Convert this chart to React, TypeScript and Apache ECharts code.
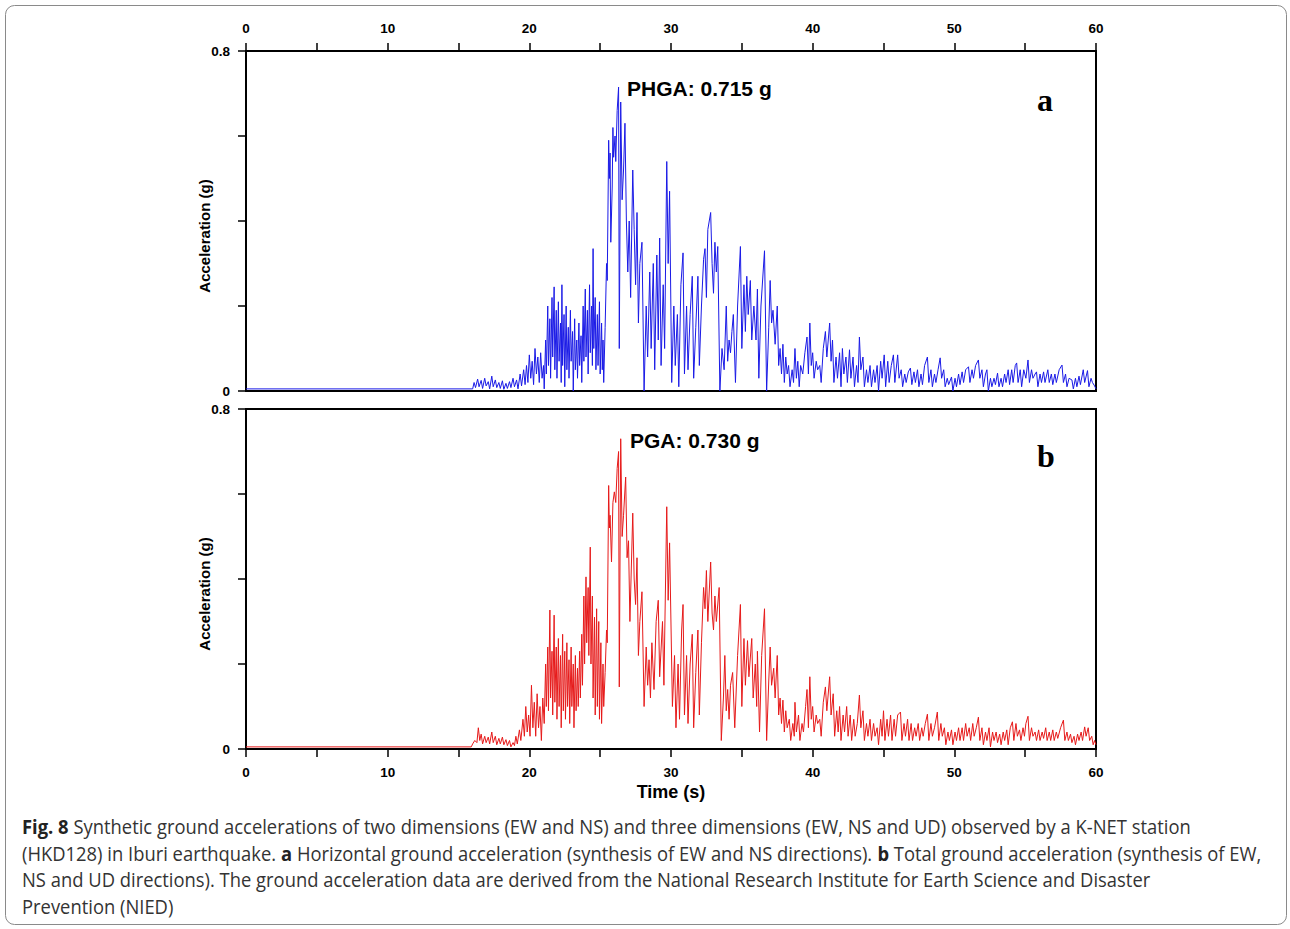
import React, { useEffect, useRef } from "react";
import * as echarts from "echarts";

// Time axis ticks (s) and acceleration axis (g)
const timeTicks = [0, 10, 20, 30, 40, 50, 60];
const accelLabels = ["0", "0.8"];

// Panel a: horizontal ground acceleration (EW + NS), [time s, acceleration g]
const phgaSeries: [number, number][] = [
  [0, 0.005], [16.0, 0.005], [16.1, 0.02], [16.2, 0.008], [16.35, 0.028], [16.45, 0.01], [16.6, 0.025], [16.7, 0.006],
  [16.85, 0.03], [16.95, 0.012], [17.1, 0.022], [17.2, 0.005], [17.35, 0.035], [17.45, 0.01], [17.6, 0.026], [17.7, 0.008],
  [17.85, 0.02], [17.95, 0.006], [18.1, 0.024], [18.2, 0.004], [18.35, 0.018], [18.45, 0.006], [18.6, 0.022], [18.7, 0.008],
  [18.85, 0.03], [18.95, 0.01], [19.1, 0.026], [19.2, 0.005], [19.35, 0.04], [19.45, 0.012], [19.6, 0.05], [19.7, 0.015],
  [19.8, 0.06], [19.9, 0.02], [20.0, 0.085], [20.1, 0.03], [20.2, 0.07], [20.3, 0.015], [20.4, 0.1], [20.5, 0.04],
  [20.6, 0.08], [20.7, 0.02], [20.8, 0.09], [20.9, 0.03], [21.0, 0.06], [21.05, 0.005], [21.15, 0.12], [21.2, 0.04],
  [21.3, 0.2], [21.35, 0.06], [21.45, 0.17], [21.5, 0.03], [21.6, 0.22], [21.65, 0.08], [21.75, 0.245], [21.8, 0.05],
  [21.9, 0.19], [21.95, 0.03], [22.05, 0.21], [22.1, 0.07], [22.2, 0.16], [22.25, 0.02], [22.3, 0.25], [22.35, 0.06],
  [22.45, 0.18], [22.5, 0.01], [22.6, 0.2], [22.65, 0.05], [22.75, 0.15], [22.8, 0.03], [22.9, 0.19], [22.95, 0.07],
  [23.05, 0.14], [23.1, 0.0], [23.2, 0.17], [23.25, 0.05], [23.35, 0.12], [23.4, 0.03], [23.5, 0.16], [23.55, 0.06],
  [23.65, 0.13], [23.7, 0.02], [23.8, 0.2], [23.85, 0.07], [23.95, 0.24], [24.0, 0.08], [24.1, 0.19], [24.15, 0.04],
  [24.25, 0.25], [24.3, 0.09], [24.4, 0.2], [24.45, 0.06], [24.5, 0.335], [24.55, 0.1], [24.65, 0.22], [24.7, 0.05],
  [24.8, 0.18], [24.85, 0.06], [24.95, 0.21], [25.0, 0.04], [25.1, 0.16], [25.15, 0.05], [25.2, 0.12], [25.25, 0.02],
  [25.35, 0.15], [25.45, 0.3], [25.5, 0.26], [25.6, 0.59], [25.65, 0.5], [25.7, 0.56], [25.75, 0.35], [25.85, 0.48],
  [25.9, 0.62], [25.95, 0.55], [26.05, 0.6], [26.1, 0.54], [26.2, 0.66], [26.3, 0.715], [26.35, 0.1], [26.45, 0.68],
  [26.55, 0.45], [26.65, 0.52], [26.75, 0.63], [26.85, 0.4], [26.95, 0.28], [27.05, 0.4], [27.15, 0.22], [27.3, 0.52],
  [27.4, 0.38], [27.5, 0.25], [27.6, 0.42], [27.7, 0.16], [27.8, 0.3], [27.95, 0.35], [28.1, 0.0], [28.25, 0.2],
  [28.35, 0.08], [28.5, 0.28], [28.6, 0.1], [28.75, 0.3], [28.85, 0.05], [29.0, 0.32], [29.1, 0.12], [29.2, 0.36],
  [29.3, 0.06], [29.45, 0.25], [29.55, 0.1], [29.7, 0.54], [29.8, 0.3], [29.9, 0.47], [30.05, 0.02], [30.2, 0.2],
  [30.3, 0.06], [30.45, 0.18], [30.55, 0.01], [30.7, 0.25], [30.85, 0.325], [30.95, 0.04], [31.1, 0.2], [31.2, 0.05],
  [31.35, 0.18], [31.5, 0.27], [31.6, 0.03], [31.75, 0.15], [31.9, 0.27], [32.0, 0.06], [32.15, 0.2], [32.3, 0.31],
  [32.4, 0.335], [32.5, 0.22], [32.6, 0.38], [32.8, 0.42], [32.9, 0.3], [33.0, 0.23], [33.1, 0.35], [33.2, 0.28],
  [33.3, 0.34], [33.45, 0.0], [33.6, 0.1], [33.75, 0.05], [33.9, 0.2], [34.0, 0.07], [34.1, 0.12], [34.2, 0.09],
  [34.3, 0.14], [34.4, 0.18], [34.55, 0.02], [34.7, 0.2], [34.9, 0.34], [35.0, 0.1], [35.15, 0.25], [35.25, 0.14],
  [35.35, 0.27], [35.45, 0.18], [35.6, 0.26], [35.7, 0.12], [35.85, 0.2], [36.0, 0.12], [36.1, 0.24], [36.2, 0.03],
  [36.35, 0.2], [36.6, 0.33], [36.75, 0.0], [36.9, 0.15], [37.0, 0.26], [37.1, 0.16], [37.2, 0.19], [37.35, 0.11],
  [37.5, 0.2], [37.6, 0.06], [37.7, 0.1], [37.8, 0.04], [37.9, 0.11], [38.0, 0.02], [38.1, 0.08], [38.2, 0.04],
  [38.3, 0.06], [38.4, 0.01], [38.55, 0.05], [38.65, 0.02], [38.75, 0.1], [38.85, 0.03], [38.95, 0.07], [39.05, 0.01],
  [39.15, 0.06], [39.3, 0.04], [39.45, 0.09], [39.6, 0.127], [39.7, 0.04], [39.8, 0.16], [39.9, 0.06], [40.0, 0.09],
  [40.1, 0.03], [40.25, 0.07], [40.35, 0.05], [40.5, 0.06], [40.6, 0.02], [40.75, 0.1], [40.9, 0.14], [41.0, 0.08],
  [41.2, 0.16], [41.3, 0.07], [41.4, 0.12], [41.5, 0.02], [41.65, 0.08], [41.75, 0.03], [41.9, 0.09], [42.0, 0.01],
  [42.1, 0.1], [42.2, 0.04], [42.35, 0.08], [42.45, 0.02], [42.6, 0.097], [42.7, 0.03], [42.85, 0.08], [42.95, 0.01],
  [43.1, 0.06], [43.2, 0.02], [43.3, 0.127], [43.4, 0.05], [43.55, 0.08], [43.65, 0.01], [43.8, 0.05], [43.9, 0.02],
  [44.05, 0.06], [44.15, 0.01], [44.3, 0.05], [44.4, 0.02], [44.55, 0.06], [44.65, 0.0], [44.8, 0.07], [44.9, 0.03],
  [45.05, 0.085], [45.15, 0.01], [45.3, 0.07], [45.4, 0.02], [45.55, 0.06], [45.7, 0.085], [45.8, 0.02], [46.0, 0.085],
  [46.1, 0.03], [46.25, 0.05], [46.35, 0.01], [46.5, 0.04], [46.6, 0.02], [46.75, 0.045], [46.9, 0.054], [47.0, 0.015],
  [47.15, 0.045], [47.25, 0.02], [47.4, 0.05], [47.5, 0.01], [47.65, 0.04], [47.75, 0.015], [47.9, 0.06], [48.1, 0.08],
  [48.2, 0.02], [48.35, 0.05], [48.45, 0.01], [48.6, 0.04], [48.7, 0.02], [48.85, 0.05], [49.0, 0.078], [49.1, 0.03],
  [49.25, 0.05], [49.35, 0.01], [49.5, 0.03], [49.6, 0.015], [49.8, 0.033], [49.9, 0.0], [50.05, 0.03], [50.15, 0.01],
  [50.3, 0.04], [50.4, 0.015], [50.55, 0.045], [50.65, 0.02], [50.8, 0.05], [51.0, 0.057], [51.1, 0.02], [51.25, 0.05],
  [51.35, 0.03], [51.5, 0.06], [51.7, 0.073], [51.8, 0.03], [51.95, 0.05], [52.05, 0.01], [52.2, 0.04], [52.3, 0.05],
  [52.4, 0.0], [52.55, 0.03], [52.65, 0.01], [52.8, 0.03], [52.9, 0.015], [53.05, 0.042], [53.15, 0.01], [53.3, 0.03],
  [53.4, 0.01], [53.55, 0.04], [53.65, 0.02], [53.8, 0.05], [53.9, 0.015], [54.05, 0.05], [54.15, 0.02], [54.3, 0.06],
  [54.4, 0.066], [54.5, 0.02], [54.65, 0.05], [54.75, 0.01], [54.9, 0.05], [55.05, 0.03], [55.2, 0.073], [55.3, 0.02],
  [55.45, 0.05], [55.55, 0.03], [55.7, 0.04], [55.8, 0.045], [55.9, 0.01], [56.05, 0.04], [56.15, 0.02], [56.3, 0.045],
  [56.4, 0.02], [56.6, 0.05], [56.7, 0.02], [56.85, 0.04], [56.95, 0.015], [57.1, 0.04], [57.2, 0.02], [57.4, 0.05],
  [57.6, 0.061], [57.7, 0.02], [57.85, 0.04], [57.95, 0.01], [58.1, 0.03], [58.3, 0.026], [58.4, 0.005], [58.55, 0.03],
  [58.65, 0.01], [58.8, 0.035], [58.9, 0.015], [59.1, 0.05], [59.2, 0.02], [59.4, 0.048], [59.5, 0.01], [59.65, 0.03],
  [59.75, 0.02], [59.9, 0.012], [60.0, 0.005],
];

// Panel b: total ground acceleration (EW + NS + UD), [time s, acceleration g]
const pgaSeries: [number, number][] = [
  [0, 0.005], [15.9, 0.005], [16.0, 0.012], [16.15, 0.02], [16.3, 0.015], [16.4, 0.05], [16.5, 0.02], [16.6, 0.035],
  [16.7, 0.012], [16.85, 0.03], [16.95, 0.015], [17.1, 0.028], [17.2, 0.012], [17.35, 0.04], [17.45, 0.015], [17.6, 0.03],
  [17.7, 0.01], [17.85, 0.025], [17.95, 0.012], [18.1, 0.028], [18.2, 0.01], [18.35, 0.022], [18.45, 0.008], [18.6, 0.02],
  [18.7, 0.005], [18.85, 0.015], [18.95, 0.008], [19.05, 0.03], [19.15, 0.012], [19.3, 0.045], [19.4, 0.02], [19.55, 0.07],
  [19.65, 0.03], [19.75, 0.1], [19.85, 0.04], [19.95, 0.08], [20.05, 0.03], [20.15, 0.15], [20.25, 0.05], [20.35, 0.11],
  [20.45, 0.03], [20.55, 0.13], [20.65, 0.05], [20.75, 0.1], [20.85, 0.02], [20.95, 0.12], [21.05, 0.06], [21.15, 0.2],
  [21.2, 0.1], [21.3, 0.24], [21.35, 0.09], [21.45, 0.327], [21.5, 0.12], [21.6, 0.23], [21.65, 0.08], [21.75, 0.315],
  [21.8, 0.11], [21.9, 0.24], [21.95, 0.07], [22.05, 0.26], [22.1, 0.1], [22.2, 0.22], [22.25, 0.05], [22.35, 0.27],
  [22.4, 0.09], [22.5, 0.23], [22.55, 0.07], [22.65, 0.25], [22.7, 0.1], [22.8, 0.21], [22.85, 0.06], [22.95, 0.24],
  [23.0, 0.1], [23.1, 0.2], [23.15, 0.05], [23.25, 0.22], [23.3, 0.09], [23.4, 0.19], [23.45, 0.1], [23.55, 0.23],
  [23.6, 0.12], [23.7, 0.27], [23.75, 0.15], [23.85, 0.36], [23.9, 0.2], [24.0, 0.405], [24.05, 0.25], [24.15, 0.38],
  [24.2, 0.22], [24.3, 0.475], [24.35, 0.2], [24.45, 0.36], [24.5, 0.12], [24.6, 0.31], [24.65, 0.08], [24.75, 0.33],
  [24.8, 0.1], [24.9, 0.3], [24.95, 0.07], [25.05, 0.25], [25.1, 0.06], [25.2, 0.2], [25.25, 0.1], [25.35, 0.18],
  [25.45, 0.28], [25.5, 0.25], [25.6, 0.62], [25.65, 0.52], [25.7, 0.55], [25.8, 0.44], [25.9, 0.58], [26.0, 0.605],
  [26.1, 0.58], [26.2, 0.66], [26.3, 0.7], [26.35, 0.146], [26.45, 0.73], [26.55, 0.5], [26.65, 0.55], [26.8, 0.64],
  [26.9, 0.45], [27.0, 0.49], [27.1, 0.3], [27.3, 0.555], [27.4, 0.4], [27.5, 0.34], [27.6, 0.45], [27.7, 0.22],
  [27.8, 0.3], [27.95, 0.37], [28.1, 0.1], [28.25, 0.24], [28.35, 0.15], [28.45, 0.21], [28.55, 0.12], [28.65, 0.25],
  [28.8, 0.14], [28.95, 0.3], [29.1, 0.35], [29.2, 0.17], [29.4, 0.3], [29.5, 0.15], [29.7, 0.57], [29.8, 0.35],
  [29.9, 0.485], [30.1, 0.1], [30.25, 0.22], [30.35, 0.05], [30.5, 0.2], [30.6, 0.07], [30.75, 0.28], [30.85, 0.34],
  [30.95, 0.08], [31.1, 0.22], [31.2, 0.06], [31.35, 0.2], [31.5, 0.27], [31.6, 0.05], [31.75, 0.18], [31.9, 0.28],
  [32.0, 0.08], [32.15, 0.25], [32.3, 0.38], [32.4, 0.33], [32.5, 0.42], [32.6, 0.3], [32.8, 0.44], [32.9, 0.32],
  [33.0, 0.28], [33.1, 0.36], [33.2, 0.3], [33.4, 0.38], [33.55, 0.02], [33.7, 0.12], [33.8, 0.22], [33.9, 0.09],
  [34.0, 0.14], [34.1, 0.07], [34.2, 0.15], [34.35, 0.18], [34.5, 0.05], [34.7, 0.22], [34.9, 0.34], [35.0, 0.1],
  [35.15, 0.26], [35.25, 0.15], [35.4, 0.255], [35.5, 0.17], [35.7, 0.26], [35.8, 0.12], [35.95, 0.2], [36.05, 0.1],
  [36.1, 0.23], [36.25, 0.04], [36.4, 0.22], [36.6, 0.33], [36.75, 0.02], [36.9, 0.16], [37.0, 0.24], [37.1, 0.15],
  [37.25, 0.19], [37.35, 0.12], [37.5, 0.22], [37.6, 0.08], [37.7, 0.12], [37.8, 0.06], [37.9, 0.115], [38.0, 0.04],
  [38.1, 0.09], [38.2, 0.05], [38.35, 0.07], [38.45, 0.02], [38.6, 0.06], [38.7, 0.03], [38.75, 0.11], [38.85, 0.04],
  [39.0, 0.08], [39.1, 0.02], [39.25, 0.06], [39.35, 0.04], [39.5, 0.1], [39.6, 0.14], [39.7, 0.05], [39.8, 0.17],
  [39.9, 0.07], [40.0, 0.1], [40.1, 0.04], [40.25, 0.08], [40.35, 0.06], [40.5, 0.07], [40.6, 0.03], [40.75, 0.11],
  [40.9, 0.146], [41.0, 0.09], [41.2, 0.17], [41.3, 0.08], [41.45, 0.13], [41.55, 0.03], [41.7, 0.09], [41.8, 0.04],
  [41.9, 0.1], [42.0, 0.02], [42.15, 0.08], [42.25, 0.04], [42.4, 0.1], [42.5, 0.03], [42.65, 0.08], [42.75, 0.02],
  [42.9, 0.07], [43.0, 0.03], [43.15, 0.06], [43.3, 0.127], [43.4, 0.05], [43.55, 0.09], [43.65, 0.02], [43.8, 0.06],
  [43.9, 0.03], [44.05, 0.07], [44.15, 0.02], [44.3, 0.06], [44.4, 0.03], [44.55, 0.05], [44.65, 0.01], [44.8, 0.07],
  [44.9, 0.03], [45.0, 0.09], [45.1, 0.02], [45.25, 0.07], [45.35, 0.03], [45.5, 0.08], [45.6, 0.02], [45.75, 0.07],
  [45.85, 0.03], [46.0, 0.08], [46.2, 0.087], [46.3, 0.02], [46.45, 0.06], [46.55, 0.03], [46.7, 0.07], [46.8, 0.02],
  [46.95, 0.06], [47.05, 0.02], [47.2, 0.05], [47.3, 0.03], [47.45, 0.06], [47.55, 0.02], [47.7, 0.05], [47.8, 0.03],
  [47.95, 0.06], [48.1, 0.082], [48.2, 0.02], [48.35, 0.06], [48.45, 0.03], [48.6, 0.05], [48.8, 0.087], [48.9, 0.02],
  [49.05, 0.06], [49.15, 0.03], [49.3, 0.05], [49.4, 0.01], [49.55, 0.04], [49.65, 0.02], [49.8, 0.045], [49.9, 0.01],
  [50.05, 0.04], [50.15, 0.02], [50.3, 0.05], [50.4, 0.02], [50.55, 0.05], [50.65, 0.02], [50.8, 0.06], [50.9, 0.03],
  [51.05, 0.05], [51.15, 0.02], [51.3, 0.06], [51.4, 0.03], [51.55, 0.05], [51.7, 0.075], [51.8, 0.02], [51.95, 0.05],
  [52.05, 0.01], [52.2, 0.04], [52.3, 0.02], [52.45, 0.05], [52.55, 0.005], [52.7, 0.04], [52.8, 0.02], [52.95, 0.04],
  [53.05, 0.015], [53.2, 0.035], [53.3, 0.01], [53.45, 0.04], [53.55, 0.02], [53.7, 0.045], [53.8, 0.01], [53.95, 0.05],
  [54.1, 0.064], [54.2, 0.02], [54.35, 0.06], [54.45, 0.03], [54.6, 0.045], [54.7, 0.02], [54.85, 0.05], [54.95, 0.03],
  [55.05, 0.06], [55.2, 0.077], [55.3, 0.02], [55.45, 0.05], [55.55, 0.03], [55.7, 0.04], [55.8, 0.02], [55.95, 0.045],
  [56.05, 0.02], [56.2, 0.04], [56.3, 0.025], [56.45, 0.05], [56.55, 0.02], [56.7, 0.04], [56.8, 0.02], [56.95, 0.045],
  [57.05, 0.02], [57.2, 0.04], [57.3, 0.025], [57.5, 0.05], [57.7, 0.068], [57.8, 0.02], [57.95, 0.04], [58.05, 0.02],
  [58.2, 0.035], [58.3, 0.015], [58.45, 0.03], [58.55, 0.01], [58.7, 0.035], [58.8, 0.02], [58.95, 0.04], [59.05, 0.02],
  [59.2, 0.052], [59.3, 0.03], [59.45, 0.05], [59.55, 0.02], [59.7, 0.03], [59.8, 0.01], [59.9, 0.02], [60.0, 0.01],
];

const peakLabels = ["PHGA: 0.715 g", "PGA: 0.730 g"];
const panelLetters = ["a", "b"];
const yAxisTitle = "Acceleration (g)";
const xAxisTitle = "Time (s)";
const captionLines = [
  "{b|Fig. 8} Synthetic ground accelerations of two dimensions (EW and NS) and three dimensions (EW, NS and UD) observed by a K-NET station",
  "(HKD128) in Iburi earthquake. {b|a} Horizontal ground acceleration (synthesis of EW and NS directions). {b|b} Total ground acceleration (synthesis of EW,",
  "NS and UD directions). The ground acceleration data are derived from the National Research Institute for Earth Science and Disaster",
  "Prevention (NIED)",
];

const AXIS_FONT = "'Liberation Sans', Arial, sans-serif";

function xAxisFor(gridIndex: number, top: boolean) {
  return {
    type: "value",
    gridIndex,
    min: 0,
    max: 60,
    interval: 5,
    position: top ? "top" : "bottom",
    name: top ? "" : xAxisTitle,
    nameLocation: "middle",
    nameGap: 34,
    nameTextStyle: { fontFamily: AXIS_FONT, fontWeight: "bold", fontSize: 18, color: "#000" },
    axisLine: { show: true, onZero: false, lineStyle: { color: "#000", width: 2 } },
    axisTick: { show: true, inside: false, length: 8, lineStyle: { color: "#000", width: 1.5 } },
    axisLabel: {
      show: true,
      margin: 16,
      fontFamily: AXIS_FONT,
      fontWeight: "bold",
      fontSize: 13.5,
      color: "#000",
      formatter: (v: number) => (timeTicks.includes(v) ? String(v) : ""),
    },
    splitLine: { show: false },
  };
}

function yAxisFor(gridIndex: number) {
  return {
    type: "value",
    gridIndex,
    min: 0,
    max: 0.8,
    interval: 0.2,
    axisLine: { show: true, onZero: false, lineStyle: { color: "#000", width: 2 } },
    axisTick: { show: true, inside: false, length: 8, lineStyle: { color: "#000", width: 1.5 } },
    axisLabel: {
      show: true,
      margin: 16,
      fontFamily: AXIS_FONT,
      fontWeight: "bold",
      fontSize: 13.5,
      color: "#000",
      formatter: (v: number) => {
        if (Math.abs(v) < 1e-9) return accelLabels[0];
        if (Math.abs(v - 0.8) < 1e-9) return accelLabels[1];
        return "";
      },
    },
    splitLine: { show: false },
  };
}

export default function App() {
  const ref = useRef<HTMLDivElement>(null);

  useEffect(() => {
    document.body.style.margin = "0";
    if (!ref.current) return;
    const chart = echarts.init(ref.current, null, { renderer: "svg" });
    const gridBox = { left: 246, width: 850, height: 340, show: true, borderColor: "#000", borderWidth: 2, backgroundColor: "transparent" };
    const yTitle = (y: number) => ({
      type: "text",
      x: 204,
      y,
      rotation: Math.PI / 2,
      style: { text: yAxisTitle, font: `bold 15px ${AXIS_FONT}`, fill: "#000", align: "center", verticalAlign: "middle" },
    });
    const option: any = {
      animation: false,
      backgroundColor: "#fff",
      grid: [
        { ...gridBox, top: 51 },
        { ...gridBox, top: 409 },
      ],
      xAxis: [xAxisFor(0, true), xAxisFor(1, false)],
      yAxis: [yAxisFor(0), yAxisFor(1)],
      series: [
        {
          type: "line",
          xAxisIndex: 0,
          yAxisIndex: 0,
          data: phgaSeries,
          showSymbol: false,
          symbol: "none",
          silent: true,
          lineStyle: { color: "#1a1ae6", width: 1 },
          z: 1,
        },
        {
          type: "line",
          xAxisIndex: 1,
          yAxisIndex: 1,
          data: pgaSeries,
          showSymbol: false,
          symbol: "none",
          silent: true,
          lineStyle: { color: "#e61a1a", width: 1 },
          z: 1,
        },
      ],
      graphic: [
        {
          type: "rect",
          shape: { x: 5.5, y: 5.5, width: 1281, height: 919, r: 9 },
          style: { fill: "none", stroke: "#8a8a8a", lineWidth: 1 },
          silent: true,
          z: -1,
        },
        yTitle(236),
        yTitle(594),
        {
          type: "text",
          x: 627,
          y: 88,
          style: { text: peakLabels[0], font: `bold 21px ${AXIS_FONT}`, fill: "#000", verticalAlign: "middle" },
        },
        {
          type: "text",
          x: 630,
          y: 440,
          style: { text: peakLabels[1], font: `bold 21px ${AXIS_FONT}`, fill: "#000", verticalAlign: "middle" },
        },
        {
          type: "text",
          x: 1045,
          y: 100,
          style: { text: panelLetters[0], font: "bold 32px 'Liberation Serif', 'Times New Roman', serif", fill: "#000", align: "center", verticalAlign: "middle" },
        },
        {
          type: "text",
          x: 1046,
          y: 456,
          style: { text: panelLetters[1], font: "bold 32px 'Liberation Serif', 'Times New Roman', serif", fill: "#000", align: "center", verticalAlign: "middle" },
        },
        {
          type: "text",
          x: 22,
          y: 813,
          scaleX: 0.92,
          style: {
            text: captionLines.join("\n"),
            fontFamily: "'Open Sans', sans-serif",
            fontSize: 20,
            lineHeight: 26.5,
            fill: "#333",
            rich: {
              b: { fontFamily: "'Open Sans', sans-serif", fontWeight: "bold", fontSize: 20, lineHeight: 26.5, fill: "#222" },
            },
          },
        },
      ],
    };
    chart.setOption(option);
    return () => chart.dispose();
  }, []);

  return <div ref={ref} style={{ width: 1290, height: 929 }} />;
}
